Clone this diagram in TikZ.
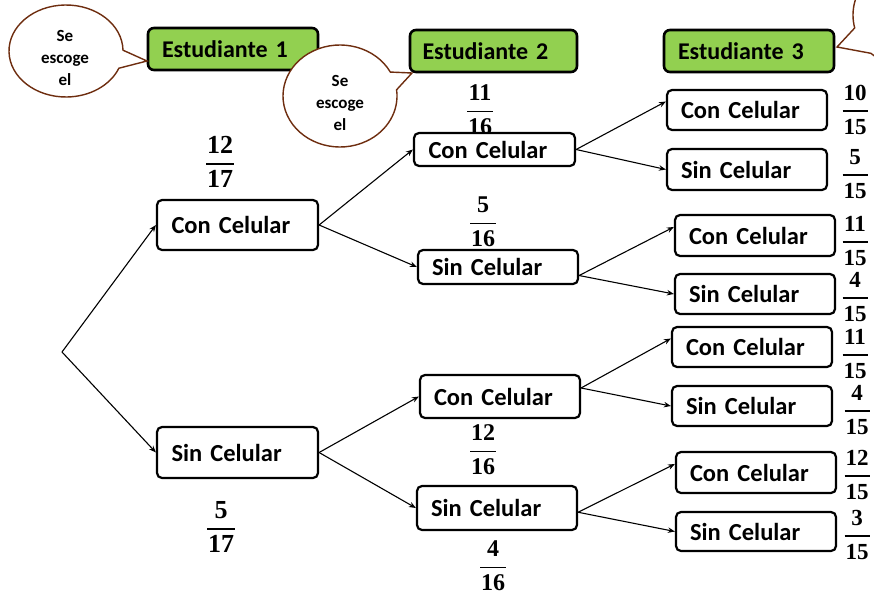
\documentclass[tikz,border=0pt]{standalone}
\usepackage{amsmath}
\usepackage{fontspec}
\setmainfont{Carlito}
\newfontfamily\frfont{Liberation Serif}
\usetikzlibrary{arrows.meta,calc}
\definecolor{hdrgreen}{RGB}{146,208,80}
\definecolor{bubbrown}{RGB}{110,45,15}
\newcommand\fracD[2]{$\genfrac{}{}{1.6pt}{0}{\mbox{\kern1pt\frfont\bfseries #1\kern1pt}}{\mbox{\kern1pt\frfont\bfseries #2\kern1pt}}$}
\tikzset{
  hdr/.style={draw=black, line width=2.6pt, fill=hdrgreen, rounded corners=6pt,
    minimum width=168pt, minimum height=42pt, text width=142pt, align=left,
    inner sep=0pt, font=\bfseries\fontsize{24}{27}\selectfont},
  cbox/.style={draw=black, line width=2.2pt, fill=white, rounded corners=5pt,
    minimum width=160pt, text width=132pt, align=left, inner sep=0pt,
    font=\bfseries\fontsize{24.5}{27}\selectfont},
  frA/.style={inner sep=0pt, font=\fontsize{26}{30}\selectfont},
  frB/.style={inner sep=0pt, font=\fontsize{24}{27}\selectfont},
  frC/.style={inner sep=0pt, font=\fontsize{23}{26}\selectfont},
  arr/.style={line width=1.1pt, -{Stealth[length=7pt,width=5.5pt]}},
  bub/.style={draw=bubbrown, line width=1.4pt, fill=white},
  btext/.style={align=center, inner sep=0pt, font=\bfseries\fontsize{17}{22}\selectfont}
}
\begin{document}
\begin{tikzpicture}[x=1pt,y=1pt]
\useasboundingbox (0,0) rectangle (874,-607);
\clip (0,0) rectangle (874,-607);
\fill[white] (0,0) rectangle (874,-607);

% fractions
\node[frA] (f1a) at (220,-162) {\fracD{12}{17}};
\node[frA] (f1b) at (221,-527) {\fracD{5}{17}};
\node[frB] (f2a) at (480,-110) {\fracD{11}{16}};
\node[frB] (f2b) at (483,-222) {\fracD{5}{16}};
\node[frB] (f2c) at (483,-450) {\fracD{12}{16}};
\node[frB] (f2d) at (493,-566) {\fracD{4}{16}};
\node[frC] (f3a) at (855,-110) {\fracD{10}{15}};
\node[frC] (f3b) at (855,-174) {\fracD{5}{15}};
\node[frC] (f3c) at (855,-241) {\fracD{11}{15}};
\node[frC] (f3d) at (855,-297) {\fracD{4}{15}};
\node[frC] (f3e) at (855,-354) {\fracD{11}{15}};
\node[frC] (f3f) at (857,-410) {\fracD{4}{15}};
\node[frC] (f3g) at (857,-475) {\fracD{12}{15}};
\node[frC] (f3h) at (857,-535) {\fracD{3}{15}};

% level 1
\coordinate (root) at (62,-352);
\node[cbox, minimum width=161pt, minimum height=50pt] (c1) at (237.5,-225) {Con Celular};
\node[cbox, minimum width=161pt, minimum height=51pt] (s1) at (237.5,-452.5) {Sin Celular};
% level 2
\node[cbox, minimum width=161pt, minimum height=33pt] (c2a) at (494.5,-149.5) {Con Celular};
\node[cbox, minimum height=34pt] (s2a) at (498,-267) {Sin Celular};
\node[cbox, minimum height=43pt] (c2b) at (500,-396.5) {Con Celular};
\node[cbox, minimum height=44pt] (s2b) at (497,-508) {Sin Celular};
% level 3
\node[cbox, minimum height=40pt] (l1) at (747,-110) {Con Celular};
\node[cbox, minimum height=41pt] (l2) at (747,-169.5) {Sin Celular};
\node[cbox, minimum height=41pt] (l3) at (755,-235.5) {Con Celular};
\node[cbox, minimum height=40pt] (l4) at (755,-294) {Sin Celular};
\node[cbox, minimum height=40pt] (l5) at (752,-347) {Con Celular};
\node[cbox, minimum height=40pt] (l6) at (752,-406) {Sin Celular};
\node[cbox, minimum height=41pt] (l7) at (756,-472.5) {Con Celular};
\node[cbox, minimum height=39pt] (l8) at (756,-531.5) {Sin Celular};

% arrows
\draw[arr] (root) -- (c1.west);
\draw[arr] (root) -- (s1.west);
\draw[arr] (c1.east) -- (c2a.west);
\draw[arr] (c1.east) -- (s2a.west);
\draw[arr] (s1.east) -- (c2b.west);
\draw[arr] (s1.east) -- (s2b.west);
\draw[arr] (c2a.east) -- (l1.174);
\draw[arr] (c2a.east) -- (l2.west);
\draw[arr] (s2a.-6) -- (l3.174);
\draw[arr] (s2a.-6) -- (l4.west);
\draw[arr] (c2b.6) -- (l5.174);
\draw[arr] (c2b.6) -- (l6.west);
\draw[arr] (s2b.-3) -- (l7.174);
\draw[arr] (s2b.-3) -- (l8.west);

% headers
\node[hdr, minimum width=170pt] (e1) at (233,-49) {Estudiante 1};
\node[hdr, minimum width=167pt] (e2) at (493.5,-51) {Estudiante 2};
\node[hdr, minimum width=170pt] (e3) at (749,-51) {Estudiante 3};

% speech bubbles
\draw[bub] (66,-51) ++(1:57 and 46) arc[start angle=1, end angle=338, x radius=57, y radius=46] -- (147,-61) -- cycle;
\node[btext] (b1) at (65,-58) {Se\\escoge\\el};
\draw[bub] (340,-96) ++(28:57 and 51) arc[start angle=28, end angle=367, x radius=57, y radius=51] -- (412,-73) -- cycle;
\node[btext] (b2) at (340,-103) {Se\\escoge\\el};
\draw[bub] (903,-15) ++(230:50 and 50) arc[start angle=230, end angle=555, x radius=50, y radius=50] -- (837,-47) -- cycle;
\end{tikzpicture}
\end{document}
